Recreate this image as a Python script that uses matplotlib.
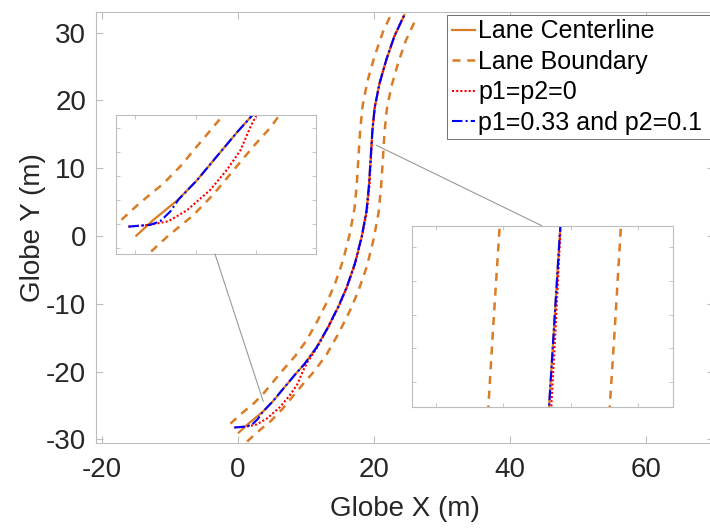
import matplotlib.pyplot as plt
from matplotlib.patches import ConnectionPatch

plt.rcParams['font.family'] = ['Liberation Sans', 'DejaVu Sans']
plt.rcParams['axes.unicode_minus'] = False

# lane centerline (m)
center_x = [0.1, 1.5, 3.55, 5.1, 7.0, 8.5, 9.75, 11.5, 13.2, 14.8, 16.0, 17.2, 18.2,
            18.9, 19.25, 19.5, 19.75, 20.1, 20.8, 21.8, 23.0, 24.45]
center_y = [-29.0, -27.7, -26.0, -24.4, -22.1, -20.3, -18.9, -16.5, -13.5, -10.3, -7.5,
            -4.0, 0.0, 3.8, 7.5, 11.5, 15.5, 19.0, 22.5, 26.0, 29.5, 32.6]

# lane boundaries
left_x = [-1.13, 0.32, 2.33, 3.75, 5.62, 7.14, 8.34, 9.98, 11.61, 13.17, 14.32, 15.47,
          16.44, 17.12, 17.46, 17.70, 17.96, 18.32, 19.05, 20.08, 21.33, 22.82]
left_y = [-27.68, -26.34, -24.67, -23.21, -20.95, -19.13, -17.78, -15.53, -12.66, -9.54,
          -6.86, -3.49, 0.38, 4.05, 7.64, 11.61, 15.64, 19.27, 22.93, 26.54, 30.17, 33.36]
right_x = [1.33, 2.68, 4.77, 6.45, 8.38, 9.86, 11.16, 13.02, 14.79, 16.43, 17.68, 18.93,
           19.96, 20.68, 21.04, 21.30, 21.54, 21.88, 22.55, 23.52, 24.67, 26.08]
right_y = [-30.32, -29.06, -27.33, -25.59, -23.25, -21.47, -20.02, -17.47, -14.34, -11.06,
           -8.14, -4.51, -0.38, 3.55, 7.36, 11.39, 15.36, 18.73, 22.07, 25.46, 28.83, 31.84]

# p1=p2=0
red_x = [-0.55, 1.24, 2.75, 4.27, 6.2, 7.6, 8.7, 9.55, 10.2, 11.6, 13.25, 14.85, 16.05,
         17.25, 18.25, 18.97, 19.33, 19.55, 19.75, 20.1, 20.8, 21.8, 23.0, 24.45]
red_y = [-28.25, -28.1, -27.8, -26.9, -25.2, -23.5, -21.9, -19.9, -18.6, -16.5, -13.5,
         -10.3, -7.5, -4.0, 0.0, 3.8, 7.5, 11.5, 15.5, 19.0, 22.5, 26.0, 29.5, 32.6]

# p1=0.33 and p2=0.15
blue_x = [-0.55, 1.24, 2.07, 2.9, 3.58, 5.1, 7.0, 8.5, 9.75, 11.5, 13.2, 14.8, 16.0,
          17.2, 18.2, 18.9, 19.25, 19.5, 19.75, 20.1, 20.8, 21.8, 23.0, 24.45]
blue_y = [-28.25, -28.1, -27.8, -27.0, -26.0, -24.4, -22.1, -20.3, -18.9, -16.5, -13.5,
          -10.3, -7.5, -4.0, 0.0, 3.8, 7.5, 11.5, 15.5, 19.0, 22.5, 26.0, 29.5, 32.6]

orange = '#D97C25'
frame = '#BDBDBD'
dark = '#262626'


def draw(a):
    h1, = a.plot(center_x, center_y, color=orange, lw=1.6, label='Lane Centerline')
    h2, = a.plot(left_x, left_y, color=orange, lw=1.8, ls=(0, (3.2, 2.7)), label='Lane Boundary')
    a.plot(right_x, right_y, color=orange, lw=1.8, ls=(0, (3.2, 2.7)))
    h3, = a.plot(red_x, red_y, color='#FF0000', lw=1.5, ls=(0, (1, 1)), label='p1=p2=0')
    h4, = a.plot(blue_x, blue_y, color='#0000FF', lw=1.5, ls=(0, (5, 1.5, 1, 1.5)),
                 label='p1=0.33 and p2=0.1')
    for s in a.spines.values():
        s.set_color(frame)
    a.tick_params(direction='in', top=True, right=True, color=frame, labelcolor=dark)
    return [h1, h2, h3, h4]


fig = plt.figure(figsize=(7.1, 5.3), dpi=100)
W, H = 710, 530

ax = fig.add_axes([96 / W, (H - 442.7) / H, (714 - 96) / W, (442.7 - 12) / H])
handles = draw(ax)
ax.set_xlim(-20.9, 70)
ax.set_ylim(-30.49, 33.04)
ax.set_xticks([-20, 0, 20, 40, 60])
ax.set_yticks([-30, -20, -10, 0, 10, 20, 30])
ax.tick_params(labelsize=20, length=5, width=0.8)
ax.tick_params(axis='x', pad=10)
ax.tick_params(axis='y', pad=7)
ax.set_xlabel('Globe X (m)', fontsize=20, color=dark, labelpad=9.5)
ax.set_ylabel('Globe Y (m)', fontsize=20, color=dark, labelpad=0)

# zoom of the start of the manoeuvre
ax1 = fig.add_axes([116 / W, (H - 254) / H, 200 / W, 139 / H])
draw(ax1)
ax1.set_xlim(-1.58, 14.95)
ax1.set_ylim(-30.53, -18.95)
ax1.set_xticks([0, 5, 10])
ax1.set_yticks([-30, -28, -26, -24, -22, -20])
ax1.tick_params(labelbottom=False, labelleft=False, length=3, width=0.6)

# zoom of the straight middle section
ax2 = fig.add_axes([412.3 / W, (H - 406.7) / H, 261 / W, 181 / H])
draw(ax2)
ax2.set_xlim(15.3, 23.05)
ax2.set_ylim(9.27, 14.64)
ax2.set_xticks([16, 18, 20, 22])
ax2.set_yticks([10, 11, 12, 13, 14])
ax2.tick_params(labelbottom=False, labelleft=False, length=3, width=0.6)

for xy, inset, xb, yb in [((3.7, -24.4), ax1, 0.495, 0.0), ((20.3, 13.4), ax2, 0.496, 1.0)]:
    con = ConnectionPatch(xyA=xy, coordsA=ax.transData, xyB=(xb, yb), coordsB=inset.transAxes,
                          color='#999999', lw=0.8)
    fig.add_artist(con)

leg = fig.legend(handles=handles, loc='upper left', mode='expand',
                 bbox_to_anchor=(447.3 / W, 1 - 140 / H, (740 - 447.3) / W, (140 - 15) / H),
                 bbox_transform=fig.transFigure, fontsize=18, borderaxespad=0,
                 borderpad=0.18, labelspacing=0.26, handlelength=0.92, handletextpad=0.14,
                 fancybox=False, framealpha=1)
leg.get_frame().set_edgecolor('#707070')
leg.get_frame().set_linewidth(0.7)

fig.savefig('out.png', dpi=100)
